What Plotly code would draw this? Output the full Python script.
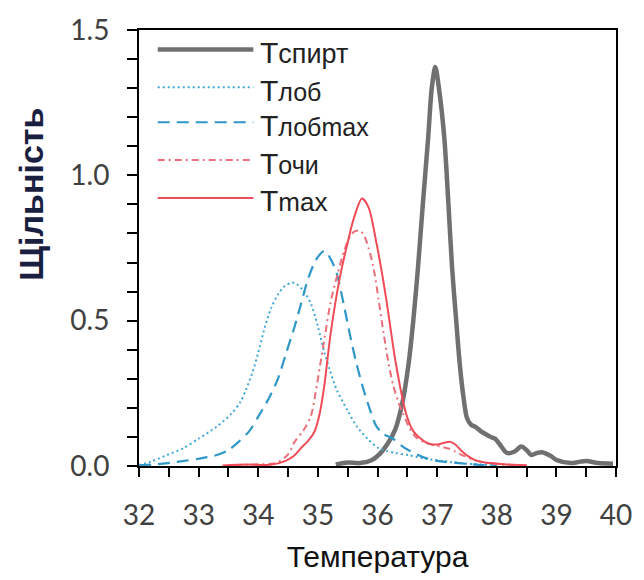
import plotly.graph_objects as go

# ---- data ----
names = ["Tспирт", "Tлоб", "Tлобmax", "Tочи", "Tmax"]

spirt_x = [35.3, 35.5, 35.7, 35.9, 36.03, 36.18, 36.3, 36.42, 36.52, 36.6, 36.68, 36.76, 36.85, 36.91,
           36.97, 37.03, 37.12, 37.19, 37.25, 37.32, 37.38, 37.44, 37.5, 37.57, 37.65, 37.73, 37.81, 37.9,
           37.97, 38.05, 38.17, 38.3, 38.41, 38.5, 38.58, 38.68, 38.76, 38.9, 39.01, 39.24, 39.4, 39.5,
           39.7, 39.95]
spirt_y = [0.005, 0.012, 0.01, 0.02, 0.04, 0.08, 0.127, 0.22, 0.35, 0.5, 0.685, 0.9, 1.13, 1.3,
           1.373, 1.3, 1.13, 0.9, 0.685, 0.5, 0.35, 0.24, 0.165, 0.142, 0.134, 0.12, 0.11, 0.1,
           0.094, 0.075, 0.045, 0.05, 0.067, 0.055, 0.038, 0.045, 0.047, 0.035, 0.02, 0.01, 0.015, 0.017,
           0.01, 0.008]

lob_x = [32.0, 32.2, 32.46, 32.75, 33.0, 33.3, 33.55, 33.7, 33.79, 33.9, 34.0, 34.1, 34.21, 34.33,
         34.45, 34.55, 34.61, 34.75, 34.88, 35.0, 35.11, 35.2, 35.32, 35.5, 35.65, 35.85, 36.03, 36.3,
         36.53, 36.8, 37.09, 37.5, 38.0]
lob_y = [0.003, 0.015, 0.037, 0.062, 0.094, 0.135, 0.18, 0.22, 0.26, 0.32, 0.39, 0.47, 0.54, 0.59,
         0.62, 0.63, 0.63, 0.605, 0.56, 0.48, 0.39, 0.33, 0.26, 0.19, 0.137, 0.09, 0.06, 0.045,
         0.037, 0.025, 0.017, 0.008, 0.003]

lobmax_x = [32.0, 32.4, 32.73, 33.0, 33.29, 33.5, 33.67, 33.85, 34.0, 34.17, 34.33, 34.47, 34.61, 34.72,
            34.83, 34.97, 35.11, 35.22, 35.32, 35.43, 35.54, 35.65, 35.77, 35.88, 35.98, 36.1, 36.26,
            36.4, 36.53, 36.81, 37.1, 37.36, 37.7, 38.0]
lobmax_y = [0.002, 0.008, 0.017, 0.025, 0.037, 0.055, 0.083, 0.12, 0.17, 0.23, 0.30, 0.39, 0.48, 0.56,
            0.64, 0.71, 0.74, 0.71, 0.66, 0.56, 0.45, 0.35, 0.26, 0.19, 0.137, 0.11, 0.094,
            0.07, 0.053, 0.027, 0.015, 0.01, 0.004, 0.002]

ochi_x = [33.6, 34.0, 34.3, 34.5, 34.61, 34.75, 34.88, 34.96, 35.04, 35.12, 35.21, 35.33, 35.44, 35.52,
          35.6, 35.7, 35.77, 35.85, 35.93, 36.02, 36.1, 36.18, 36.26, 36.35, 36.43, 36.54, 36.64, 36.8,
          36.98, 37.1, 37.19, 37.3, 37.45, 37.6, 37.8, 38.1, 38.5]
ochi_y = [0.002, 0.006, 0.01, 0.04, 0.083, 0.12, 0.17, 0.25, 0.35, 0.45, 0.56, 0.66, 0.74, 0.78,
          0.805, 0.81, 0.795, 0.75, 0.685, 0.57, 0.46, 0.36, 0.28, 0.22, 0.18, 0.13, 0.10, 0.08,
          0.07, 0.065, 0.06, 0.05, 0.035, 0.022, 0.012, 0.005, 0.003]

tmax_x = [33.4, 33.8, 34.2, 34.45, 34.6, 34.71, 34.85, 34.94, 35.03, 35.11, 35.21, 35.32, 35.4, 35.49,
          35.6, 35.74, 35.85, 35.98, 36.07, 36.15, 36.31, 36.48, 36.6, 36.69, 36.86, 37.0, 37.12, 37.22,
          37.3, 37.42, 37.53, 37.64, 37.8, 37.92, 38.2, 38.5]
tmax_y = [0.002, 0.005, 0.004, 0.017, 0.035, 0.06, 0.09, 0.117, 0.18, 0.28, 0.45, 0.595, 0.68, 0.76,
          0.85, 0.92, 0.89, 0.77, 0.67, 0.57, 0.35, 0.18, 0.12, 0.10, 0.077, 0.074, 0.08, 0.083,
          0.075, 0.05, 0.032, 0.02, 0.012, 0.01, 0.005, 0.003]

x_ticks = [32, 33, 34, 35, 36, 37, 38, 39, 40]
y_ticks = [0.0, 0.5, 1.0, 1.5]
y_tick_labels = ["0.0", "0.5", "1.0", "1.5"]

# ---- styles ----
styles = [
    dict(color="#707070", width=4.5, dash="solid"),
    dict(color="#3fa9d4", width=2, dash="2px,3px"),
    dict(color="#2f98c8", width=2.2, dash="12px,7px"),
    dict(color="#e9707a", width=2, dash="7px,4px,2px,4px"),
    dict(color="#f04c58", width=2, dash="solid"),
]
series = [(spirt_x, spirt_y), (lob_x, lob_y), (lobmax_x, lobmax_y), (ochi_x, ochi_y), (tmax_x, tmax_y)]

fig = go.Figure()
for (xs, ys), nm, st in zip(series, names, styles):
    fig.add_trace(go.Scatter(x=xs, y=ys, mode="lines", name=nm, showlegend=False,
                             line=dict(color=st["color"], width=st["width"], dash=st["dash"],
                                       shape="spline", smoothing=0.8)))

# ---- custom legend ----
L, R, T, B = 139, 21, 19, 112
W, H = 644 - L - R, 580 - T - B
def px_x(p): return (p - L) / W
def px_y(p): return (580 - B - p) / H

leg_rows = [39, 78, 114, 153, 192]
leg_text = ["T<span style='font-size:27px'>спирт</span>",
            "T<span style='font-size:25px'>лоб</span>",
            "T<span style='font-size:25px'>лобmax</span>",
            "T<span style='font-size:25px'>очи</span>",
            "T<span style='font-size:26px'>max</span>"]
for row, txt, st in zip(leg_rows, leg_text, styles):
    fig.add_shape(type="line", xref="paper", yref="paper",
                  x0=px_x(158), x1=px_x(255), y0=px_y(row), y1=px_y(row),
                  line=dict(color=st["color"], width=st["width"], dash=st["dash"]))
    fig.add_annotation(xref="paper", yref="paper", x=px_x(260), y=px_y(row + 3),
                       xanchor="left", yanchor="middle", showarrow=False, text=txt,
                       font=dict(family="Liberation Sans, Arial, sans-serif", size=30, color="#222222"))

# y title
fig.add_annotation(xref="paper", yref="paper", x=px_x(30), y=px_y(188), textangle=-90,
                   xanchor="center", yanchor="middle", showarrow=False, text="<b>Щільність</b>",
                   font=dict(family="Liberation Sans, Arial, sans-serif", size=34, color="#1a2040"))

fig.update_layout(
    width=644, height=580,
    margin=dict(l=L, r=R, t=T, b=B),
    paper_bgcolor="white", plot_bgcolor="white",
    showlegend=False,
)
fig.update_xaxes(range=[32, 40], tickvals=x_ticks, ticktext=[str(v) for v in x_ticks],
                 showgrid=False, zeroline=False, showline=True, linecolor="black", linewidth=2,
                 mirror=True, ticks="outside", ticklen=9, tickwidth=2, tickcolor="black",
                 minor=dict(dtick=0.5, ticks="outside", ticklen=9, tickwidth=2, tickcolor="black"),
                 tickfont=dict(family="Lato, sans-serif", size=28, color="#404040"),
                 ticklabelstandoff=14,
                 title=dict(text="Температура", standoff=16,
                            font=dict(family="Liberation Sans, Arial, sans-serif", size=30, color="#111111")))
fig.update_yaxes(range=[0, 1.5], tickvals=y_ticks, ticktext=y_tick_labels,
                 showgrid=False, zeroline=False, showline=True, linecolor="black", linewidth=2,
                 mirror=True, ticks="outside", ticklen=10, tickwidth=2, tickcolor="black",
                 minor=dict(dtick=0.1, ticks="outside", ticklen=10, tickwidth=2, tickcolor="black"),
                 tickfont=dict(family="Lato, sans-serif", size=28, color="#404040"),
                 ticklabelstandoff=12)

fig.write_html("out.html")
